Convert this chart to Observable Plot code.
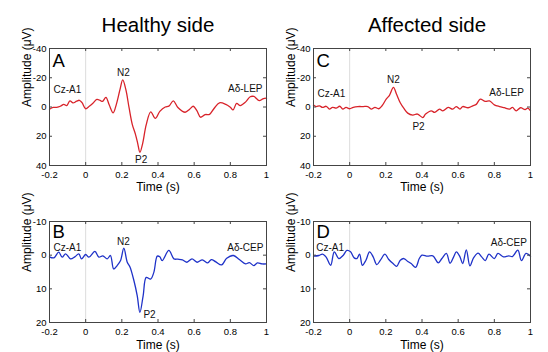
<!DOCTYPE html>
<html><head><meta charset="utf-8">
<script src="https://cdn.jsdelivr.net/npm/d3@7"></script>
<script src="https://cdn.jsdelivr.net/npm/@observablehq/plot@0.6"></script>
<style>
body{margin:0;background:#fff;}
#wrap{position:relative;width:548px;height:352px;overflow:hidden;background:#fff;}
#wrap > div{position:absolute;}
</style></head><body>
<div id="wrap">
<div id="pA" style="left:0;top:0"></div>
<div id="pC" style="left:274px;top:0"></div>
<div id="pB" style="left:0;top:200px"></div>
<div id="pD" style="left:274px;top:200px"></div>
</div>
<script>
// ---- data ----
const xTicks = [-0.2, 0, 0.2, 0.4, 0.6, 0.8, 1];
const yTicksLEP = [-40, -20, 0, 20, 40];
const yTicksCEP = [-10, 0, 10, 20];
const titles = ["Healthy side", "Affected side"];
const xLabel = "Time (s)";
const yLabel = "Amplitude (μV)";

// Panel A: healthy side, Aδ-LEP
const timeA = [-0.2,-0.18,-0.16,-0.14,-0.121,-0.105,-0.087,-0.07,-0.05,-0.035,-0.02,0,0.02,0.04,0.062,0.08,0.093,0.112,0.13,0.152,0.17,0.19,0.205,0.222,0.24,0.258,0.275,0.288,0.3,0.315,0.335,0.36,0.385,0.41,0.44,0.46,0.485,0.51,0.55,0.575,0.595,0.615,0.635,0.66,0.685,0.71,0.74,0.775,0.8,0.815,0.835,0.855,0.885,0.91,0.93,0.96,0.98,1.0];
const ampA = [1.5,0.3,0.2,-0.5,-1.8,-1.0,-4.2,-2.8,-4.0,-4.6,-3.0,1.2,-0.5,-2.5,-5.2,-4.5,-3.8,-6.6,-1.5,4.0,-2,-12,-18.5,-12,0.5,12,18.5,25,31,25,12,3.3,7.8,3,0,-0.6,-4.2,0.3,3.6,1.5,-0.5,2.5,7,5.2,5,1,-2.9,-1.8,0.2,2,-2.4,-1,-3.5,-7,-7.2,-4.4,-5.5,-6];

// Panel B: healthy side, Aδ-CEP
const timeB = [-0.2,-0.176,-0.149,-0.13,-0.111,-0.084,-0.06,-0.038,-0.023,0,0.018,0.051,0.073,0.095,0.119,0.137,0.155,0.174,0.193,0.211,0.23,0.245,0.267,0.285,0.3,0.318,0.335,0.359,0.377,0.396,0.41,0.423,0.46,0.488,0.51,0.535,0.56,0.588,0.616,0.645,0.675,0.695,0.72,0.752,0.78,0.817,0.85,0.884,0.905,0.93,0.95,0.975,1.0];
const ampB = [0.5,0.8,-0.9,0.6,-0.4,1.1,0.5,-0.4,1.1,-0.2,0.6,-1.1,0.6,0.2,1.1,0.1,4.1,3.1,1.6,-2.1,2.1,3.5,7.6,12,17,12,6.6,7.1,5.1,0.3,0.5,1.6,-1.4,1.1,1.2,1.4,2.1,1.1,2.1,1.4,2.3,1.3,2.0,2.9,0.9,0.1,1.3,2.6,2.2,3.1,2.3,2.6,2.6];

// Panel C: affected side, Aδ-LEP
const timeC = [-0.2,-0.185,-0.167,-0.15,-0.13,-0.112,-0.095,-0.075,-0.055,-0.038,-0.02,0,0.02,0.045,0.075,0.1,0.119,0.14,0.16,0.18,0.202,0.22,0.242,0.26,0.279,0.3,0.321,0.349,0.375,0.404,0.42,0.451,0.47,0.497,0.515,0.545,0.57,0.589,0.61,0.625,0.655,0.681,0.7,0.722,0.75,0.773,0.8,0.829,0.855,0.884,0.9,0.921,0.945,0.97,0.985,1.0];
const ampC = [-1.3,-0.3,-0.8,0.3,-0.5,1.4,0.2,0.8,-0.5,1.4,0.3,1.2,0.2,-0.3,-0.3,-0.3,1.4,0.2,1.2,-1.0,-5.4,-8,-13.4,-8.5,-3.1,1,4.2,5.5,4.8,7.2,4.8,2.6,3.7,1.4,2.6,0.3,1.5,-0.3,1.4,-0.3,0.5,-0.8,-1.8,-5.4,-3.8,-4.2,-1.5,-0.3,0.5,1.4,0.3,2.6,0.5,1.8,0.8,2.6];

// Panel D: affected side, Aδ-CEP
const timeD = [-0.2,-0.17,-0.15,-0.13,-0.105,-0.085,-0.06,-0.035,-0.015,0.005,0.025,0.04,0.055,0.07,0.09,0.11,0.13,0.15,0.17,0.195,0.215,0.24,0.26,0.28,0.3,0.32,0.34,0.365,0.385,0.4,0.43,0.46,0.49,0.51,0.535,0.555,0.575,0.59,0.61,0.625,0.645,0.665,0.685,0.71,0.73,0.75,0.77,0.8,0.82,0.85,0.88,0.9,0.93,0.95,0.975,1.0];
const ampD = [0.3,0.1,-0.3,0.6,3.0,-1.0,1.0,0,-1.4,-1.0,0.8,1.0,-0.3,3.0,1.5,-1.0,0.5,2.8,1.5,-0.3,1.2,2.5,3.3,1.5,1.0,1.8,2.5,3.6,1.0,0.0,0.3,0.2,2.3,1.0,-0.5,2.4,0.5,-1.0,0.5,2.5,-1.6,3.2,0.8,-0.6,0.5,1.6,-0.3,1.0,-0.5,0.5,0.2,0.4,-1.5,1.6,-0.5,0.3];

// annotations
const notesA = {label: ["Cz-A1","N2","P2","Aδ-LEP"], t: [-0.178,0.209,0.307,0.978], v: [-12,-23.1,35.9,-12.7], anchor: ["start","middle","middle","end"]};
const notesB = {label: ["Cz-A1","N2","P2","Aδ-CEP"], t: [-0.178,0.209,0.353,0.983], v: [-2.2,-4.05,17.6,-2.05], anchor: ["start","middle","middle","end"]};
const notesC = {label: ["Cz-A1","N2","P2","Aδ-LEP"], t: [-0.178,0.242,0.381,0.963], v: [-9,-18.6,13.5,-9.9], anchor: ["start","middle","middle","end"]};
const notesD = {label: ["Cz-A1","Aδ-CEP"], t: [-0.185,0.98], v: [-2.2,-3.75], anchor: ["start","end"]};

const RED = "#d8232a", BLUE = "#1f32c8";
const FONT = "'Liberation Sans', Arial, Helvetica, sans-serif";

function panel(o) {
  const fw = o.width - o.ml - o.mr, fh = o.height - o.mt - o.mb;
  const rows = o.time.map((t, i) => ({t, v: o.amp[i]}));
  const notes = o.notes.label.map((label, i) => ({label, t: o.notes.t[i], v: o.notes.v[i], anchor: o.notes.anchor[i]}));
  const noteMarks = ["start", "middle", "end"].map(a =>
    Plot.text(notes.filter(d => d.anchor === a), {x: "t", y: "v", text: "label", textAnchor: a, fontSize: 10, fill: "#111"}));
  const marks = [
    Plot.ruleX([0], {stroke: "#dcdcdc", strokeWidth: 1}),
    Plot.line(rows, {x: "t", y: "v", stroke: o.color, strokeWidth: 1.3, curve: "catmull-rom"}),
    Plot.frame({stroke: "#444", strokeWidth: 1}),
    Plot.axisX({ticks: xTicks, tickSize: 0, tickPadding: o.xPad, tickFormat: d => String(d), label: null, fontSize: 9.5}),
    Plot.axisY({ticks: o.yTicks, tickSize: 0, tickPadding: 3, tickFormat: d => String(d), label: null, fontSize: 9.5}),
    Plot.ruleX(xTicks, {insetBottom: fh - 3, stroke: "#444"}),
    Plot.ruleX(xTicks, {insetTop: fh - 3, stroke: "#444"}),
    Plot.ruleY(o.yTicks, {insetLeft: fw - 3, stroke: "#444"}),
    Plot.ruleY(o.yTicks, {insetRight: fw - 3, stroke: "#444"}),
    Plot.text([xLabel], {frameAnchor: "bottom", dy: o.xlabDy, lineAnchor: "middle", fontSize: 12, fill: "#000"}),
    Plot.text([yLabel], {frameAnchor: "left", dx: -22.5, rotate: -90, lineAnchor: "middle", fontSize: 12, fill: "#000"}),
    Plot.text([o.letter], {frameAnchor: "top-left", dx: 3, dy: o.letterDy, textAnchor: "start", lineAnchor: "top", fontSize: 18.5, fill: "#000"}),
    ...noteMarks
  ];
  if (o.title) marks.push(Plot.text([o.title], {frameAnchor: "top", dx: o.titleDx || 0, dy: -23, lineAnchor: "middle", fontSize: 20.5, fill: "#000"}));
  return Plot.plot({
    width: o.width, height: o.height,
    marginLeft: o.ml, marginRight: o.mr, marginTop: o.mt, marginBottom: o.mb,
    style: {fontFamily: FONT, fontSize: "9.5px", color: "#000", background: "transparent", overflow: "visible"},
    x: {domain: [-0.2, 1]},
    y: {domain: o.yDomain, reverse: true},
    marks
  });
}

document.getElementById("pA").append(panel({time: timeA, amp: ampA, color: RED, yDomain: [-40, 40], yTicks: yTicksLEP, letter: "A", title: titles[0], notes: notesA, width: 274, height: 200, ml: 49, mr: 8, mt: 48, mb: 35, xPad: 6, xlabDy: 21.5, letterDy: 5}));
document.getElementById("pC").append(panel({time: timeC, amp: ampC, color: RED, yDomain: [-40, 40], yTicks: yTicksLEP, letter: "C", title: titles[1], titleDx: 5, notes: notesC, width: 274, height: 200, ml: 39, mr: 18, mt: 48, mb: 35, xPad: 6, xlabDy: 21.5, letterDy: 5}));
document.getElementById("pB").append(panel({time: timeB, amp: ampB, color: BLUE, yDomain: [-10, 20], yTicks: yTicksCEP, letter: "B", notes: notesB, width: 274, height: 152, ml: 49, mr: 8, mt: 21, mb: 30, xPad: 6, xlabDy: 22.5, letterDy: 3}));
document.getElementById("pD").append(panel({time: timeD, amp: ampD, color: BLUE, yDomain: [-10, 20], yTicks: yTicksCEP, letter: "D", notes: notesD, width: 274, height: 152, ml: 39, mr: 18, mt: 21, mb: 30, xPad: 6, xlabDy: 22.5, letterDy: 3}));
</script>
</body></html>
